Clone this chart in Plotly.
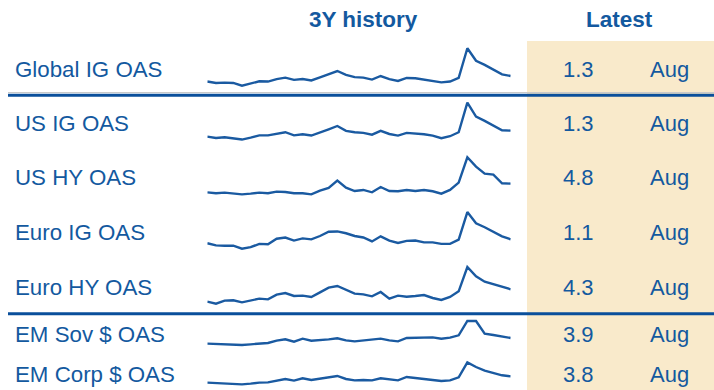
import plotly.graph_objects as go

# Monthly spread history (36 months), in percent
months = list(range(36))

global_ig = [1.10, 1.05, 1.06, 1.05, 0.95, 1.02, 1.11, 1.10, 1.19, 1.24, 1.16, 1.19,
             1.14, 1.25, 1.37, 1.48, 1.34, 1.26, 1.24, 1.17, 1.30, 1.19, 1.12, 1.23,
             1.22, 1.17, 1.14, 1.07, 1.10, 1.23, 2.30, 1.85, 1.70, 1.52, 1.36, 1.30]
us_ig = [1.03, 0.97, 1.00, 0.96, 0.90, 0.99, 1.09, 1.09, 1.15, 1.23, 1.09, 1.14,
         1.08, 1.21, 1.36, 1.51, 1.29, 1.23, 1.20, 1.12, 1.29, 1.15, 1.08, 1.20,
         1.18, 1.14, 1.08, 0.96, 1.05, 1.23, 2.56, 1.93, 1.74, 1.53, 1.32, 1.30]
us_hy = [3.63, 3.50, 3.59, 3.50, 3.36, 3.45, 3.59, 3.50, 3.72, 3.68, 3.50, 3.50,
         3.36, 3.86, 4.22, 5.21, 4.26, 3.81, 3.95, 3.63, 4.35, 3.81, 3.77, 3.95,
         3.81, 3.95, 3.77, 3.45, 3.95, 4.94, 8.36, 7.10, 6.15, 6.02, 4.85, 4.80]
euro_ig = [0.97, 0.90, 0.89, 0.89, 0.79, 0.84, 0.95, 0.94, 1.12, 1.16, 1.06, 1.13,
           1.10, 1.21, 1.35, 1.36, 1.30, 1.21, 1.16, 1.03, 1.20, 1.06, 0.98, 1.05,
           1.06, 1.00, 1.00, 0.95, 0.95, 1.09, 2.00, 1.63, 1.50, 1.35, 1.20, 1.10]
euro_hy = [2.82, 2.58, 2.94, 2.98, 2.74, 2.94, 3.18, 3.10, 3.66, 3.86, 3.50, 3.54,
           3.38, 3.94, 4.50, 4.70, 4.22, 3.78, 3.70, 3.46, 3.98, 3.18, 3.54, 3.42,
           3.50, 3.62, 3.26, 3.02, 3.38, 4.06, 6.98, 5.86, 5.22, 4.94, 4.62, 4.30]
em_sov = [3.22, 3.18, 3.14, 3.10, 3.06, 3.14, 3.22, 3.30, 3.58, 3.74, 3.46, 3.82,
          3.58, 3.62, 3.74, 3.86, 3.62, 3.50, 3.62, 3.66, 3.82, 3.62, 3.50, 3.90,
          3.90, 3.94, 3.98, 3.82, 3.94, 4.22, 5.94, 5.94, 4.42, 4.26, 4.10, 3.90]
em_corp = [3.14, 3.10, 3.07, 3.03, 2.96, 3.03, 3.14, 3.17, 3.38, 3.52, 3.35, 3.59,
           3.42, 3.56, 3.73, 3.84, 3.52, 3.38, 3.42, 3.38, 3.59, 3.45, 3.38, 3.73,
           3.59, 3.52, 3.42, 3.31, 3.38, 3.70, 5.27, 4.78, 4.40, 4.12, 3.91, 3.80]

row_labels = ["Global IG OAS", "US IG OAS", "US HY OAS", "Euro IG OAS",
              "Euro HY OAS", "EM Sov $ OAS", "EM Corp $ OAS"]
series = [global_ig, us_ig, us_hy, euro_ig, euro_hy, em_sov, em_corp]
latest_labels = ["1.3", "1.3", "4.8", "1.1", "4.3", "3.9", "3.8"]
latest_month = ["Aug"] * 7

W, H = 714, 390
TEXT = "#13599f"
RULE = "#0a4f9b"
LINE = "#1a5aa1"
FILL = "#f9eacb"
FONT = "Liberation Sans, Arial, sans-serif"

# Layout per row: text centre (px), sparkline band (px top, px bottom), y range
row_y = [69, 124, 177.5, 232.5, 287.5, 334.5, 374]
bands = [(40, 90), (98, 145), (152, 198), (206, 253), (260, 308), (316, 350), (358, 389)]
ranges = [(0.796, 2.596), (0.655, 2.770), (2.865, 9.075), (0.649, 2.200),
          (2.060, 7.820), (2.460, 6.540), (2.470, 5.725)]

def py(p):
    return 1 - p / H

def px(p):
    return p / W

fig = go.Figure()
layout = dict(
    width=W, height=H, margin=dict(l=0, r=0, t=0, b=0),
    paper_bgcolor="white", plot_bgcolor="rgba(0,0,0,0)", showlegend=False,
    xaxis=dict(domain=[px(207.3), px(510.7)], range=[0, 35], visible=False,
               fixedrange=True),
)

for i, (vals, band, rng) in enumerate(zip(series, bands, ranges)):
    ax = "" if i == 0 else str(i + 1)
    fig.add_trace(go.Scatter(x=months, y=vals, mode="lines",
                             line=dict(color=LINE, width=2.4),
                             xaxis="x", yaxis="y" + ax, hoverinfo="skip"))
    layout["yaxis" + ax] = dict(domain=[py(band[1]), py(band[0])], range=list(rng),
                                visible=False, anchor="x", fixedrange=True)

fig.update_layout(**layout)

shapes = [
    dict(type="rect", xref="paper", yref="paper", x0=px(527), x1=1, y0=0, y1=py(41),
         fillcolor=FILL, line=dict(width=0), layer="below"),
    dict(type="line", xref="paper", yref="paper", x0=px(8), x1=1, y0=py(92.5), y1=py(92.5),
         line=dict(color="#c9c9c9", width=1)),
    dict(type="line", xref="paper", yref="paper", x0=px(8), x1=1, y0=py(95.2), y1=py(95.2),
         line=dict(color=RULE, width=3)),
    dict(type="line", xref="paper", yref="paper", x0=px(8), x1=1, y0=py(313.8), y1=py(313.8),
         line=dict(color=RULE, width=3)),
]
fig.update_layout(shapes=shapes)

ann = []
ann.append(dict(text="<b>3Y history</b>", x=px(363), y=py(19), xref="paper", yref="paper",
                xanchor="center", yanchor="middle", showarrow=False,
                font=dict(family=FONT, size=22.5, color=TEXT)))
ann.append(dict(text="<b>Latest</b>", x=px(619), y=py(19), xref="paper", yref="paper",
                xanchor="center", yanchor="middle", showarrow=False,
                font=dict(family=FONT, size=22.5, color=TEXT)))
for lab, yc, val, mon in zip(row_labels, row_y, latest_labels, latest_month):
    ann.append(dict(text=lab, x=px(13), y=py(yc), xref="paper", yref="paper",
                    xanchor="left", yanchor="middle", showarrow=False,
                    font=dict(family=FONT, size=22.3, color=TEXT)))
    ann.append(dict(text=val, x=px(578.5), y=py(yc), xref="paper", yref="paper",
                    xanchor="center", yanchor="middle", showarrow=False,
                    font=dict(family=FONT, size=22, color=TEXT)))
    ann.append(dict(text=mon, x=px(669), y=py(yc), xref="paper", yref="paper",
                    xanchor="center", yanchor="middle", showarrow=False,
                    font=dict(family=FONT, size=22, color=TEXT)))
fig.update_layout(annotations=ann)

fig.write_html("out.html", config={"displayModeBar": False})
